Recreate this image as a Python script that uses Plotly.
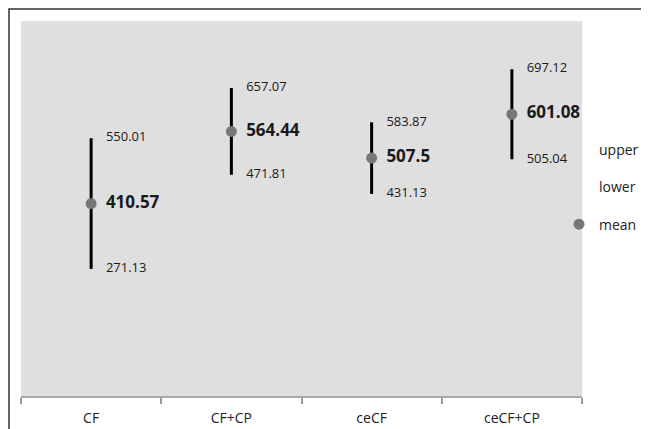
import plotly.graph_objects as go

categories = ["CF", "CF+CP", "ceCF", "ceCF+CP"]
upper = [550.01, 657.07, 583.87, 697.12]
mean = [410.57, 564.44, 507.5, 601.08]
lower = [271.13, 471.81, 431.13, 505.04]

FONT = "Open Sans, Liberation Sans, sans-serif"

fig = go.Figure()

fig.add_trace(go.Scatter(
    x=categories, y=upper, name="upper", mode="markers+text",
    marker=dict(size=22, color="rgba(0,0,0,0)"),
    text=[f"{v:.2f}" for v in upper],
    textposition="middle right",
    textfont=dict(family=FONT, size=13, color="#1a1a1a"),
    legendgroup="u", cliponaxis=False,
))
fig.add_trace(go.Scatter(
    x=categories, y=lower, name="lower", mode="markers+text",
    marker=dict(size=22, color="rgba(0,0,0,0)"),
    text=[f"{v:.2f}" for v in lower],
    textposition="middle right",
    textfont=dict(family=FONT, size=13, color="#1a1a1a"),
    legendgroup="l", cliponaxis=False,
))
fig.add_trace(go.Scatter(
    x=categories, y=mean, name="mean", mode="markers",
    marker=dict(size=11, color="#777777"),
    error_y=dict(
        type="data", symmetric=False,
        array=[u - m for u, m in zip(upper, mean)],
        arrayminus=[m - l for m, l in zip(mean, lower)],
        thickness=3, width=0, color="#000000",
    ),
    legendgroup="m", cliponaxis=False,
))
fig.add_trace(go.Scatter(
    x=categories, y=mean, name="mean labels", mode="markers+text",
    marker=dict(size=22, color="rgba(0,0,0,0)"),
    text=[f"{v:g}" for v in mean],
    textposition="middle right",
    textfont=dict(family=FONT, size=17, color="#1a1a1a", weight="bold"),
    showlegend=False, cliponaxis=False, hoverinfo="skip",
))

fig.update_layout(
    width=649, height=429,
    margin=dict(l=13, r=75, t=13, b=41, autoexpand=False),
    paper_bgcolor="white",
    plot_bgcolor="#dfdfdf",
    font=dict(family=FONT, color="#222222"),
    showlegend=True,
    legend=dict(
        xref="container", yref="container",
        x=0.849, xanchor="left", y=0.706, yanchor="top",
        font=dict(family=FONT, size=14, color="#222222"),
        traceorder="grouped", tracegroupgap=16,
        bgcolor="rgba(0,0,0,0)", itemwidth=30,
    ),
    xaxis=dict(
        type="category", tickson="boundaries", ticks="outside", ticklen=6,
        tickcolor="#9a9a9a", tickwidth=1.5,
        showline=True, linecolor="#a8a8a8", linewidth=1.5,
        showgrid=False, tickfont=dict(family=FONT, size=14, color="#222222"),
        ticklabelstandoff=8,
        range=[-0.5, 3.5],
    ),
    yaxis=dict(
        range=[0, 800], visible=False, showgrid=False, zeroline=False,
    ),
    shapes=[dict(
        type="rect", xref="paper", yref="paper",
        x0=-0.0214, y0=-1.5, x1=2.0, y1=1.032,
        line=dict(color="#333333", width=1.5), layer="above",
    )],
)

fig.write_html("out.html")
